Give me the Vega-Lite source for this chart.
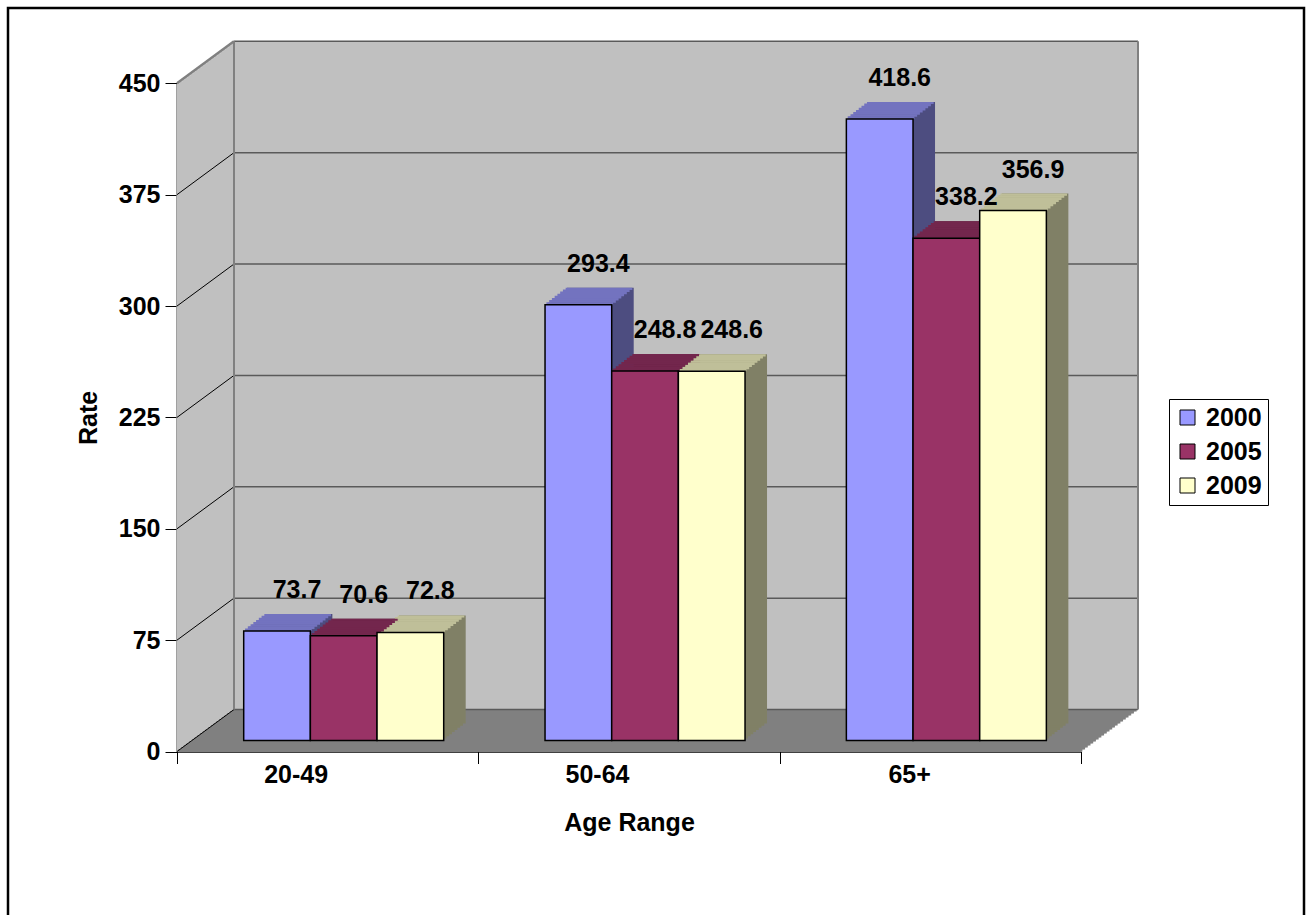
{
"$schema":"https://vega.github.io/schema/vega-lite/v6.json",
"width":1296,"height":907,
"autosize":{"type":"none"},
"padding":{"left":8,"top":8,"right":4,"bottom":0},
"background":"white",
"config":{
 "font":"Liberation Sans",
 "view":{"stroke":"#000000","strokeWidth":2.5,"strokeDash":[2203,1296,907],"fill":"#ffffff"},
 "axis":{"grid":false,"zindex":1,"labelFontSize":25,"labelFontWeight":"bold","labelColor":"#000000","titleFontSize":25,"titleFontWeight":"bold","titleColor":"#000000","tickColor":"#000000","tickWidth":1,"tickSize":12}
},
"datasets":{
 "main":[
  {"Age":"20-49","Year":"2000","Rate":73.7},
  {"Age":"20-49","Year":"2005","Rate":70.6},
  {"Age":"20-49","Year":"2009","Rate":72.8},
  {"Age":"50-64","Year":"2000","Rate":293.4},
  {"Age":"50-64","Year":"2005","Rate":248.8},
  {"Age":"50-64","Year":"2009","Rate":248.6},
  {"Age":"65+","Year":"2000","Rate":418.6},
  {"Age":"65+","Year":"2005","Rate":338.2},
  {"Age":"65+","Year":"2009","Rate":356.9}
 ],
 "ticks":[{"v":0},{"v":75},{"v":150},{"v":225},{"v":300},{"v":375},{"v":450}],
 "one":[{"k":1}]
},
"resolve":{"scale":{"xOffset":"independent"}},
"layer":[
 {"data":{"name":"one"},
  "encoding":{
   "x":{"datum":"20-49","type":"nominal","bandPosition":0,"scale":{"type":"band","domain":["20-49","50-64","65+"],"range":[169,1073],"paddingInner":0,"paddingOuter":0}},
   "x2":{"datum":"65+","bandPosition":1},
   "y":{"datum":0,"type":"quantitative","scale":{"domain":[0,450],"range":[743.5,75.3],"nice":false,"zero":true}},
   "y2":{"datum":450},
   "fill":{"value":"#C0C0C0"}},
  "layer":[
   {"mark":{"type":"rect","xOffset":0,"x2Offset":0,"yOffset":0,"y2Offset":0}},
   {"mark":{"type":"rect","xOffset":2.714,"x2Offset":2.714,"yOffset":-2,"y2Offset":-2}},
   {"mark":{"type":"rect","xOffset":5.429,"x2Offset":5.429,"yOffset":-4,"y2Offset":-4}},
   {"mark":{"type":"rect","xOffset":8.143,"x2Offset":8.143,"yOffset":-6,"y2Offset":-6}},
   {"mark":{"type":"rect","xOffset":10.857,"x2Offset":10.857,"yOffset":-8,"y2Offset":-8}},
   {"mark":{"type":"rect","xOffset":13.571,"x2Offset":13.571,"yOffset":-10,"y2Offset":-10}},
   {"mark":{"type":"rect","xOffset":16.286,"x2Offset":16.286,"yOffset":-12,"y2Offset":-12}},
   {"mark":{"type":"rect","xOffset":19,"x2Offset":19,"yOffset":-14,"y2Offset":-14}},
   {"mark":{"type":"rect","xOffset":21.714,"x2Offset":21.714,"yOffset":-16,"y2Offset":-16}},
   {"mark":{"type":"rect","xOffset":24.429,"x2Offset":24.429,"yOffset":-18,"y2Offset":-18}},
   {"mark":{"type":"rect","xOffset":27.143,"x2Offset":27.143,"yOffset":-20,"y2Offset":-20}},
   {"mark":{"type":"rect","xOffset":29.857,"x2Offset":29.857,"yOffset":-22,"y2Offset":-22}},
   {"mark":{"type":"rect","xOffset":32.571,"x2Offset":32.571,"yOffset":-24,"y2Offset":-24}},
   {"mark":{"type":"rect","xOffset":35.286,"x2Offset":35.286,"yOffset":-26,"y2Offset":-26}},
   {"mark":{"type":"rect","xOffset":38,"x2Offset":38,"yOffset":-28,"y2Offset":-28}},
   {"mark":{"type":"rect","xOffset":40.714,"x2Offset":40.714,"yOffset":-30,"y2Offset":-30}},
   {"mark":{"type":"rect","xOffset":43.429,"x2Offset":43.429,"yOffset":-32,"y2Offset":-32}},
   {"mark":{"type":"rect","xOffset":46.143,"x2Offset":46.143,"yOffset":-34,"y2Offset":-34}},
   {"mark":{"type":"rect","xOffset":48.857,"x2Offset":48.857,"yOffset":-36,"y2Offset":-36}},
   {"mark":{"type":"rect","xOffset":51.571,"x2Offset":51.571,"yOffset":-38,"y2Offset":-38}},
   {"mark":{"type":"rect","xOffset":54.286,"x2Offset":54.286,"yOffset":-40,"y2Offset":-40}},
   {"mark":{"type":"rect","xOffset":57,"x2Offset":57,"yOffset":-42,"y2Offset":-42}}
  ]},
 {"data":{"name":"one"},
  "encoding":{
   "x":{"datum":"20-49","type":"nominal","bandPosition":0},
   "x2":{"datum":"65+","bandPosition":1},
   "y":{"datum":0,"type":"quantitative"},
   "y2":{"datum":0},
   "fill":{"value":"#808080"}},
  "layer":[
   {"mark":{"type":"rect","xOffset":1.357,"x2Offset":1.357,"yOffset":-2.5,"y2Offset":0}},
   {"mark":{"type":"rect","xOffset":4.071,"x2Offset":4.071,"yOffset":-4.5,"y2Offset":-2}},
   {"mark":{"type":"rect","xOffset":6.786,"x2Offset":6.786,"yOffset":-6.5,"y2Offset":-4}},
   {"mark":{"type":"rect","xOffset":9.5,"x2Offset":9.5,"yOffset":-8.5,"y2Offset":-6}},
   {"mark":{"type":"rect","xOffset":12.214,"x2Offset":12.214,"yOffset":-10.5,"y2Offset":-8}},
   {"mark":{"type":"rect","xOffset":14.929,"x2Offset":14.929,"yOffset":-12.5,"y2Offset":-10}},
   {"mark":{"type":"rect","xOffset":17.643,"x2Offset":17.643,"yOffset":-14.5,"y2Offset":-12}},
   {"mark":{"type":"rect","xOffset":20.357,"x2Offset":20.357,"yOffset":-16.5,"y2Offset":-14}},
   {"mark":{"type":"rect","xOffset":23.071,"x2Offset":23.071,"yOffset":-18.5,"y2Offset":-16}},
   {"mark":{"type":"rect","xOffset":25.786,"x2Offset":25.786,"yOffset":-20.5,"y2Offset":-18}},
   {"mark":{"type":"rect","xOffset":28.5,"x2Offset":28.5,"yOffset":-22.5,"y2Offset":-20}},
   {"mark":{"type":"rect","xOffset":31.214,"x2Offset":31.214,"yOffset":-24.5,"y2Offset":-22}},
   {"mark":{"type":"rect","xOffset":33.929,"x2Offset":33.929,"yOffset":-26.5,"y2Offset":-24}},
   {"mark":{"type":"rect","xOffset":36.643,"x2Offset":36.643,"yOffset":-28.5,"y2Offset":-26}},
   {"mark":{"type":"rect","xOffset":39.357,"x2Offset":39.357,"yOffset":-30.5,"y2Offset":-28}},
   {"mark":{"type":"rect","xOffset":42.071,"x2Offset":42.071,"yOffset":-32.5,"y2Offset":-30}},
   {"mark":{"type":"rect","xOffset":44.786,"x2Offset":44.786,"yOffset":-34.5,"y2Offset":-32}},
   {"mark":{"type":"rect","xOffset":47.5,"x2Offset":47.5,"yOffset":-36.5,"y2Offset":-34}},
   {"mark":{"type":"rect","xOffset":50.214,"x2Offset":50.214,"yOffset":-38.5,"y2Offset":-36}},
   {"mark":{"type":"rect","xOffset":52.929,"x2Offset":52.929,"yOffset":-40.5,"y2Offset":-38}},
   {"mark":{"type":"rect","xOffset":55.643,"x2Offset":55.643,"yOffset":-42,"y2Offset":-40}}
  ]},
 {"data":{"name":"ticks"},
  "mark":{"type":"rule","xOffset":57,"x2Offset":57,"yOffset":-42,"color":"#5A5A5A","strokeWidth":1.5},
  "encoding":{"x":{"datum":"20-49","type":"nominal","bandPosition":0},"x2":{"datum":"65+","bandPosition":1},"y":{"field":"v","type":"quantitative"}}},
 {"data":{"name":"ticks"},
  "transform":[{"filter":"datum.v < 450"}],
  "mark":{"type":"rule","x2Offset":57,"y2Offset":-42,"color":"#000000","strokeWidth":1},
  "encoding":{"x":{"datum":"20-49","type":"nominal","bandPosition":0},"x2":{"datum":"20-49","bandPosition":0},"y":{"field":"v","type":"quantitative"},"y2":{"field":"v"}}},
 {"data":{"name":"ticks"},
  "transform":[{"filter":"datum.v == 450"}],
  "mark":{"type":"rule","x2Offset":57,"y2Offset":-42,"color":"#808080","strokeWidth":2.5},
  "encoding":{"x":{"datum":"20-49","type":"nominal","bandPosition":0},"x2":{"datum":"20-49","bandPosition":0},"y":{"field":"v","type":"quantitative"},"y2":{"field":"v"}}},
 {"data":{"name":"one"},
  "mark":{"type":"rule","xOffset":57,"yOffset":-42,"y2Offset":-42,"color":"#808080","strokeWidth":2},
  "encoding":{"x":{"datum":"20-49","type":"nominal","bandPosition":0},"y":{"datum":0,"type":"quantitative"},"y2":{"datum":450}}},
 {"data":{"name":"one"},
  "mark":{"type":"rule","xOffset":57,"yOffset":-42,"y2Offset":-42,"color":"#808080","strokeWidth":2},
  "encoding":{"x":{"datum":"65+","type":"nominal","bandPosition":1},"y":{"datum":0,"type":"quantitative"},"y2":{"datum":450}}},
 {"data":{"name":"main"},
  "encoding":{
   "x":{"field":"Age","type":"nominal"},
   "y":{"field":"Rate","type":"quantitative"},
   "y2":{"datum":0},
   "fill":{"condition":[{"test":"datum.Year === '2000'","value":"#4D4D80"},{"test":"datum.Year === '2005'","value":"#4D1A33"}],"value":"#808066"}},
  "resolve":{"scale":{"xOffset":"independent"}},
  "layer":[
   {"mark":{"type":"bar","yOffset":-13.125,"y2Offset":-13.125},"encoding":{"xOffset":{"field":"Year","type":"nominal","scale":{"range":[69.45,269.45],"paddingInner":0,"paddingOuter":0}}}},
   {"mark":{"type":"bar","yOffset":-15.25,"y2Offset":-15.25},"encoding":{"xOffset":{"field":"Year","type":"nominal","scale":{"range":[72.2,272.2],"paddingInner":0,"paddingOuter":0}}}},
   {"mark":{"type":"bar","yOffset":-17.375,"y2Offset":-17.375},"encoding":{"xOffset":{"field":"Year","type":"nominal","scale":{"range":[74.95,274.95],"paddingInner":0,"paddingOuter":0}}}},
   {"mark":{"type":"bar","yOffset":-19.5,"y2Offset":-19.5},"encoding":{"xOffset":{"field":"Year","type":"nominal","scale":{"range":[77.7,277.7],"paddingInner":0,"paddingOuter":0}}}},
   {"mark":{"type":"bar","yOffset":-21.625,"y2Offset":-21.625},"encoding":{"xOffset":{"field":"Year","type":"nominal","scale":{"range":[80.45,280.45],"paddingInner":0,"paddingOuter":0}}}},
   {"mark":{"type":"bar","yOffset":-23.75,"y2Offset":-23.75},"encoding":{"xOffset":{"field":"Year","type":"nominal","scale":{"range":[83.2,283.2],"paddingInner":0,"paddingOuter":0}}}},
   {"mark":{"type":"bar","yOffset":-25.875,"y2Offset":-25.875},"encoding":{"xOffset":{"field":"Year","type":"nominal","scale":{"range":[85.95,285.95],"paddingInner":0,"paddingOuter":0}}}},
   {"mark":{"type":"bar","yOffset":-28,"y2Offset":-28},"encoding":{"xOffset":{"field":"Year","type":"nominal","scale":{"range":[88.7,288.7],"paddingInner":0,"paddingOuter":0}}}}
  ]},
 {"data":{"name":"main"},
  "encoding":{
   "x":{"field":"Age","type":"nominal"},
   "y":{"field":"Rate","type":"quantitative"},
   "y2":{"field":"Rate"},
   "fill":{"condition":[{"test":"datum.Year === '2000'","value":"#7373BF"},{"test":"datum.Year === '2005'","value":"#73264D"}],"value":"#BFBF99"}},
  "resolve":{"scale":{"xOffset":"independent"}},
  "layer":[
   {"mark":{"type":"bar","yOffset":-13.625,"y2Offset":-11},"encoding":{"xOffset":{"field":"Year","type":"nominal","scale":{"range":[68.075,268.075],"paddingInner":0,"paddingOuter":0}}}},
   {"mark":{"type":"bar","yOffset":-15.75,"y2Offset":-13.125},"encoding":{"xOffset":{"field":"Year","type":"nominal","scale":{"range":[70.825,270.825],"paddingInner":0,"paddingOuter":0}}}},
   {"mark":{"type":"bar","yOffset":-17.875,"y2Offset":-15.25},"encoding":{"xOffset":{"field":"Year","type":"nominal","scale":{"range":[73.575,273.575],"paddingInner":0,"paddingOuter":0}}}},
   {"mark":{"type":"bar","yOffset":-20,"y2Offset":-17.375},"encoding":{"xOffset":{"field":"Year","type":"nominal","scale":{"range":[76.325,276.325],"paddingInner":0,"paddingOuter":0}}}},
   {"mark":{"type":"bar","yOffset":-22.125,"y2Offset":-19.5},"encoding":{"xOffset":{"field":"Year","type":"nominal","scale":{"range":[79.075,279.075],"paddingInner":0,"paddingOuter":0}}}},
   {"mark":{"type":"bar","yOffset":-24.25,"y2Offset":-21.625},"encoding":{"xOffset":{"field":"Year","type":"nominal","scale":{"range":[81.825,281.825],"paddingInner":0,"paddingOuter":0}}}},
   {"mark":{"type":"bar","yOffset":-26.375,"y2Offset":-23.75},"encoding":{"xOffset":{"field":"Year","type":"nominal","scale":{"range":[84.575,284.575],"paddingInner":0,"paddingOuter":0}}}},
   {"mark":{"type":"bar","yOffset":-28,"y2Offset":-25.875},"encoding":{"xOffset":{"field":"Year","type":"nominal","scale":{"range":[87.325,287.325],"paddingInner":0,"paddingOuter":0}}}}
  ]},
 {"data":{"name":"main"},
  "mark":{"type":"bar","yOffset":-11,"y2Offset":-11,"stroke":"#000000","strokeWidth":1.5},
  "encoding":{
   "x":{"field":"Age","type":"nominal","scale":{"type":"band","domain":["20-49","50-64","65+"],"range":[169,1073],"paddingInner":0,"paddingOuter":0},
        "axis":{"offset":-163.5,"tickBand":"extent","domainColor":"#000000","domainWidth":1.5,"labelAngle":0,"labelPadding":11,"title":"Age Range","titleY":78.5,"titleBaseline":"alphabetic"}},
   "xOffset":{"field":"Year","type":"nominal","scale":{"range":[66.7,266.7],"paddingInner":0,"paddingOuter":0}},
   "y":{"field":"Rate","type":"quantitative",
        "axis":{"offset":-169,"values":[0,75,150,225,300,375,450],"domainColor":"#808080","domainWidth":2.5,"labelPadding":5,"title":"Rate","titleX":-81,"titleBaseline":"alphabetic"}},
   "y2":{"datum":0},
   "color":{"field":"Year","type":"nominal","scale":{"domain":["2000","2005","2009"],"range":["#9999FF","#993366","#FFFFCC"]},
     "legend":{"title":null,"orient":"none","legendX":1161,"legendY":391,"padding":6,"rowPadding":8,"labelOffset":6,"symbolType":"square","symbolSize":225,"symbolStrokeColor":"#000000","symbolStrokeWidth":1,"strokeColor":"#000000","fillColor":"#ffffff","labelFontSize":25,"labelFontWeight":"bold","labelColor":"#000000"}}
  }},
 {"data":{"name":"main"},
  "mark":{"type":"text","dy":-44,"fontSize":25,"fontWeight":"bold","color":"#000000","align":"center","baseline":"alphabetic"},
  "encoding":{
   "x":{"field":"Age","type":"nominal"},
   "xOffset":{"field":"Year","type":"nominal","scale":{"type":"band","range":[86.7,286.7],"paddingInner":0,"paddingOuter":0}},
   "y":{"field":"Rate","type":"quantitative"},
   "text":{"field":"Rate","type":"quantitative","format":".1f"}
  }}
]
}
